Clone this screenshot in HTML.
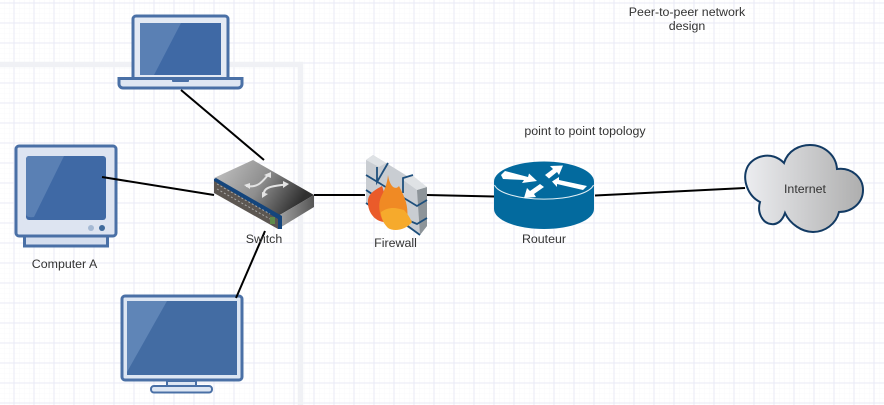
<!DOCTYPE html>
<html><head><meta charset="utf-8"><style>
html,body{margin:0;padding:0;background:#fff}
svg{display:block}
text{font-family:"Liberation Sans",Arial,sans-serif;font-size:12.4px;fill:#333;text-anchor:middle}
</style></head><body>
<svg width="884" height="405" viewBox="0 0 884 405" xmlns="http://www.w3.org/2000/svg">
<defs>
<pattern id="minor" x="14" y="3" width="5" height="5" patternUnits="userSpaceOnUse"><path d="M0 0H5M0 0V5" stroke="#f8f8fb" stroke-width="1" fill="none"/></pattern>
<pattern id="major" x="13.5" y="2.5" width="20" height="20" patternUnits="userSpaceOnUse"><path d="M.5 0V20M0 .5H20" stroke="#e9eaf5" stroke-width="1" fill="none"/></pattern>
<linearGradient id="sw" x1="0" y1="0" x2="1" y2=".35"><stop offset="0" stop-color="#c6c6c6"/><stop offset=".55" stop-color="#8e8e8e"/><stop offset="1" stop-color="#303030"/></linearGradient>
<linearGradient id="swr" x1="0" y1="0" x2="1" y2="0"><stop offset="0" stop-color="#a4a4a4"/><stop offset="1" stop-color="#555"/></linearGradient>
<linearGradient id="cl" x1="0" y1="0" x2="1" y2="0"><stop offset="0" stop-color="#ecedf0"/><stop offset="1" stop-color="#aeaeae"/></linearGradient>
</defs>
<rect width="884" height="405" fill="#fff"/>
<rect width="884" height="405" fill="url(#minor)"/>
<rect width="884" height="405" fill="url(#major)"/>
<path d="M0 64.500H300.500V405" fill="none" stroke="#f0f1f5" stroke-width="5.500"/>

<!-- laptop -->
<rect x="133" y="16" width="95" height="64" rx="3" fill="#e4eaf4" stroke="#4a70a6" stroke-width="3"/>
<rect x="140" y="23" width="81" height="52" fill="#3f69a5"/>
<path d="M140 23H181L154 75H140Z" fill="#5a80b4"/>
<path d="M119 78.500H242V84a4 4 0 0 1-4 4H123a4 4 0 0 1-4-4Z" fill="#dfe7f3" stroke="#4a70a6" stroke-width="3"/>
<rect x="172" y="79" width="17" height="3" rx="1" fill="#4a70a6"/>

<!-- monitor A -->
<rect x="24.500" y="236" width="83" height="10" fill="#d5deee" stroke="#4a70a6" stroke-width="3"/>
<rect x="16" y="146" width="100" height="90" rx="3" fill="#dde4f1" stroke="#4a70a6" stroke-width="3"/>
<rect x="26" y="156" width="80" height="64" rx="3" fill="#3f69a5"/>
<path d="M29 156H64L34 217Q26 218 26 214V160Q26 156 29 156Z" fill="#5a80b4"/>
<circle cx="91" cy="228" r="3" fill="#a5b9d4"/><circle cx="102" cy="228" r="3" fill="#3f6a9c"/>

<!-- monitor B -->
<rect x="122" y="296" width="120" height="84" rx="3" fill="#dde6f3" stroke="#4a70a6" stroke-width="3"/>
<rect x="127" y="301" width="110" height="74" fill="#436ca3"/>
<path d="M127 301H167L127 372Z" fill="#5f85b7"/>
<rect x="167" y="381" width="29" height="5" fill="#dde6f3" stroke="#4a70a6" stroke-width="2"/>
<rect x="151" y="386" width="61" height="6.500" rx="3" fill="#dde6f3" stroke="#4a70a6" stroke-width="2"/>

<!-- connectors -->
<g stroke="#000" stroke-width="2" fill="none">
<path d="M181 90L264 160"/>
<path d="M102 177L214 195"/>
<path d="M314 195H365"/>
<path d="M427 195L494 196.500"/>
<path d="M595 195.500L745 188"/>
</g>

<!-- switch -->
<path d="M214 178L253 160L314 195L278 216Z" fill="url(#sw)"/>
<path d="M278 216L314 195V207L278 229Z" fill="url(#swr)"/>
<path d="M214 180L278 218V229L214 193Z" fill="#5c5651"/>
<path d="M216 178L282 216V229L278 229V219L214 181V179Z" fill="#14457c"/>
<g stroke="#a8a8a8" stroke-width="1" stroke-dasharray="2 2" fill="none">
<path d="M217 184L270 214"/><path d="M217 189L270 219"/>
</g>
<rect x="270" y="217" width="5" height="7" fill="#5f8a4a"/>
<g stroke="#e4e4e4" stroke-width="2" fill="none">
<path d="M246 186C258 188 262 182 268 175"/>
<path d="M264 196C262 186 275 186 286 184.500"/>
</g>
<path d="M244 185L250 183L250 189ZM262 198L262 192L268 194ZM264 175L271 172L271 178ZM283 181L289 184L283 188Z" fill="#e4e4e4"/>

<!-- firewall -->
<path d="M366 160L373 155L417 182L427 187V226L420 235L366 203Z" fill="#c9cdd2"/>
<path d="M417 190L427 187V226L420 235Z" fill="#8d9499"/>
<path d="M366 160L373 155L386 163L379 167Z" fill="#dfe2e5"/>
<path d="M403 180L412 175L427 187L417 190Z" fill="#dfe2e5"/>
<g stroke="#1e4f7c" stroke-width="1.800" fill="none">
<path d="M366 175L417 206L427 200"/>
<path d="M366 190L372 194M405 219L417 224L427 218"/>
<path d="M366 203L372 207M405 224L420 235"/>
<path d="M377 167V182L388 163"/>
<path d="M403 193V178L413 175"/>
</g>
<path d="M368 200C369 193 375 190 382 186C386 196 387 212 385 222C375 222 367 212 368 200Z" fill="#ea5b2a"/>
<path d="M388 175C390 188 396 190 399 186C404 196 409 205 407 219C405 227 396 231 389 228C380 222 377 206 381 197C384 191 387 185 388 175Z" fill="#f08a24"/>
<path d="M381 212C390 206 396 208 404 210C408 214 411 220 412 222C406 230 394 232 388 228C384 224 381 218 381 212Z" fill="#f6aa2c"/>

<!-- router -->
<path d="M494 181.500V209A50 20 0 0 0 594 209V181.500Z" fill="#036a9e"/>
<ellipse cx="544" cy="181.500" rx="50" ry="20" fill="#036a9e"/>
<path d="M494.500 185A50 16.500 0 0 0 593.500 185" fill="none" stroke="#e2eff5" stroke-width="1"/>
<path d="M501 175L505 171L528 177L529 173.500L537 181L522 183L524 180L503 179Z" fill="#fff"/>
<path d="M545 175L549 178.500L557 172L559 175L563 165.500L550 166L553 169Z" fill="#fff"/>
<path d="M552 181.500L559 177L559 180L587 186L583 190L557 184L557 187Z" fill="#fff"/>
<path d="M540 184L544 187L534 194L536 197L524 198L527 188L530 191Z" fill="#fff"/>

<!-- cloud -->
<path d="M760 202C748 196 742 180 747 168C752 156 772 150 784 163C788 150 800 145 810 145C824 145 836 155 837 169C852 167 863 178 863 190C863 203 852 212 839 212C836 224 825 232 813 232C802 232 790 224 785 213C782 222 776 225 771 224C762 223 757 212 760 202Z" fill="url(#cl)" stroke="#123a63" stroke-width="2"/>

<!-- bottom-left connector over monitor -->
<path d="M236 298L265 231" stroke="#000" stroke-width="2" fill="none"/>

<!-- labels -->
<text x="64.500" y="268">Computer A</text>
<text x="264" y="243">Switch</text>
<text x="395.500" y="247">Firewall</text>
<text x="544" y="243">Routeur</text>
<text x="805" y="193">Internet</text>
<text x="585" y="135">point to point topology</text>
<text x="687" y="16">Peer-to-peer network</text>
<text x="687" y="30">design</text>
</svg>
</body></html>
